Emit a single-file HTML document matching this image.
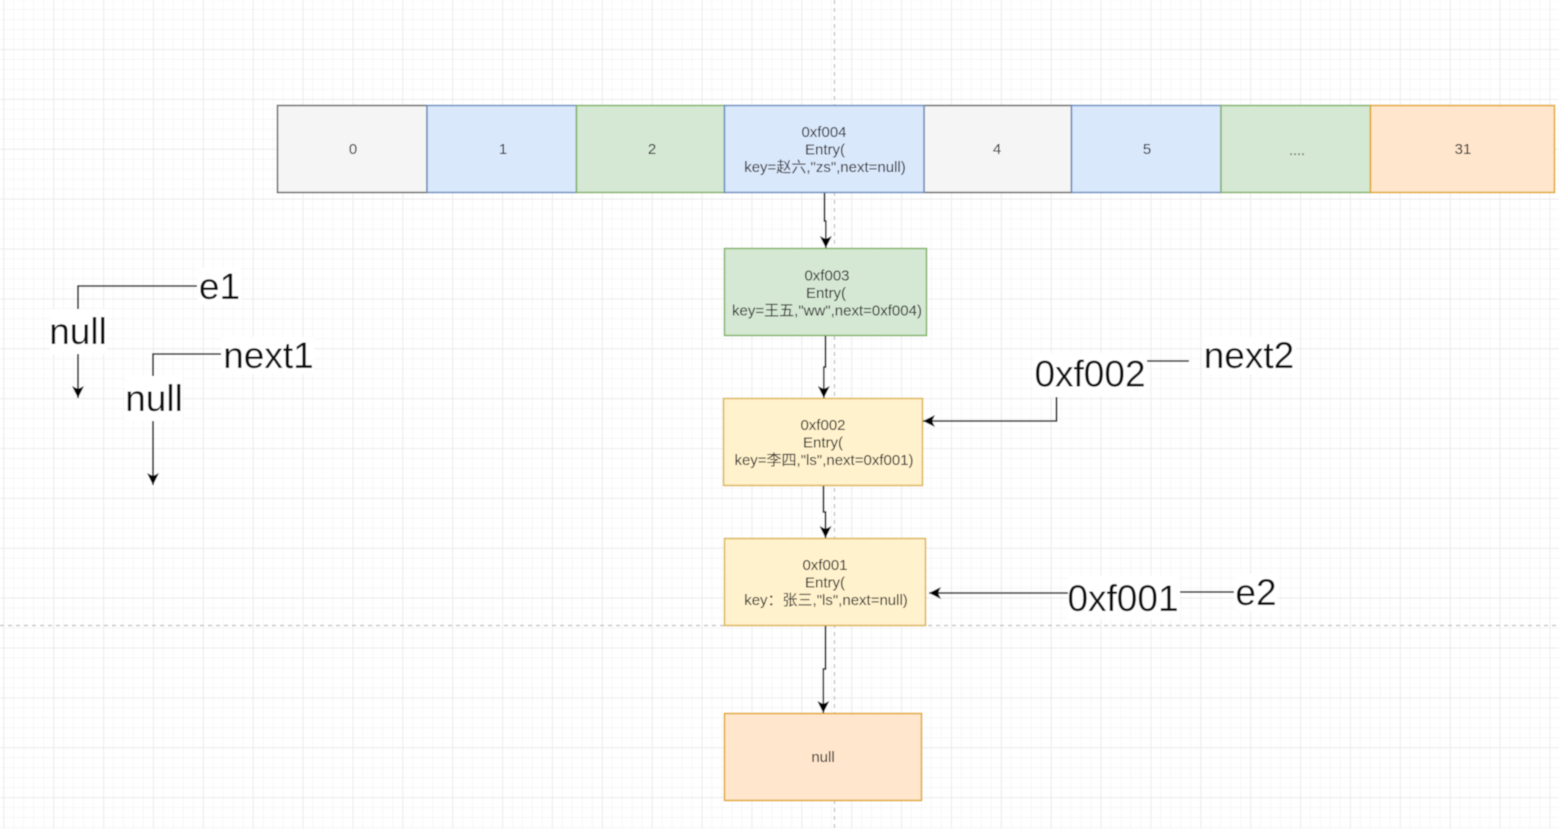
<!DOCTYPE html>
<html><head><meta charset="utf-8"><style>
html,body{margin:0;padding:0;background:#fff;width:1559px;height:829px;overflow:hidden}
svg{display:block}
text{font-family:"Liberation Sans","Noto Sans CJK SC",sans-serif;text-anchor:middle}
.s{font-size:15px;fill:#222}
.d{font-size:14.5px;fill:#444}
.b{font-size:37px;fill:#111}
.c{fill:none;stroke:#111;stroke-width:1.6}
rect.l{fill:#fff}
</style></head><body>
<svg width="1559" height="829" viewBox="0 0 1559 829" xmlns="http://www.w3.org/2000/svg">
<defs>
<pattern id="minor" x="3.4" y="-0.8" width="9.975" height="9.975" patternUnits="userSpaceOnUse">
<path d="M9.975 0H0V9.975" fill="none" stroke="#f1f1f1" stroke-width="1.2"/>
</pattern>
<pattern id="major" x="3.4" y="-0.8" width="49.875" height="49.875" patternUnits="userSpaceOnUse">
<path d="M49.875 0H0V49.875" fill="none" stroke="#e8e8e8" stroke-width="1.5"/>
</pattern>
<marker id="a" markerUnits="userSpaceOnUse" markerWidth="14" markerHeight="13" refX="12" refY="6.5" orient="auto">
<path d="M0 0.5L12 6.5L0 12.5L3 6.5Z" fill="#000"/>
</marker>
<filter id="soft" x="0" y="0" width="100%" height="100%"><feGaussianBlur stdDeviation="0.4"/></filter>
</defs>
<g filter="url(#soft)">
<rect width="1559" height="829" fill="#fff"/>
<rect width="1559" height="829" fill="url(#minor)"/>
<rect width="1559" height="829" fill="url(#major)"/>
<path d="M834.5 0V829" stroke="#bdbdbd" stroke-width="1.2" stroke-dasharray="4 4" fill="none"/>
<path d="M0 625.5H1559" stroke="#bdbdbd" stroke-width="1.2" stroke-dasharray="4 4" fill="none"/>

<!-- top array -->
<rect x="277.5" y="105.5" width="149.5" height="87" fill="#f5f5f5" stroke="#666" stroke-width="1.5"/>
<rect x="427" y="105.5" width="149.5" height="87" fill="#dae8fc" stroke="#6c8ebf" stroke-width="1.5"/>
<rect x="576.5" y="105.5" width="148" height="87" fill="#d5e8d4" stroke="#82b366" stroke-width="1.5"/>
<rect x="924" y="105.5" width="147.5" height="87" fill="#f5f5f5" stroke="#666" stroke-width="1.5"/>
<rect x="724.5" y="105.5" width="199.5" height="87" fill="#dae8fc" stroke="#6c8ebf" stroke-width="1.5"/>
<rect x="1071.5" y="105.5" width="149.5" height="87" fill="#dae8fc" stroke="#6c8ebf" stroke-width="1.5"/>
<rect x="1221" y="105.5" width="149.5" height="87" fill="#d5e8d4" stroke="#82b366" stroke-width="1.5"/>
<rect x="1370.5" y="105.5" width="184" height="87" fill="#ffe6cc" stroke="#e0a81e" stroke-width="1.5"/>

<text class="s" x="353" y="154">0</text>
<text class="s" x="503" y="154">1</text>
<text class="s" x="652" y="154">2</text>
<text class="s" x="824" y="137">0xf004</text>
<text class="s" x="825" y="154.500">Entry(</text>
<text class="s" x="825" y="172">key=赵六,"zs",next=null)</text>
<text class="s" x="997" y="154">4</text>
<text class="s" x="1147" y="154">5</text>
<text class="d" x="1297" y="155">....</text>
<text class="s" x="1463" y="154">31</text>

<!-- nodes -->
<rect x="724.500" y="248.5" width="202" height="87" fill="#d5e8d4" stroke="#82b366" stroke-width="1.5"/>
<text class="s" x="827" y="280.500">0xf003</text>
<text class="s" x="826" y="298">Entry(</text>
<text class="s" x="827" y="315.500">key=王五,"ww",next=0xf004)</text>

<rect x="723.5" y="398.5" width="199" height="87" fill="#fff2cc" stroke="#dcb552" stroke-width="1.5"/>
<text class="s" x="823" y="430">0xf002</text>
<text class="s" x="823" y="447.500">Entry(</text>
<text class="s" x="824" y="465">key=李四,"ls",next=0xf001)</text>

<rect x="724.5" y="538.5" width="201" height="87" fill="#fff2cc" stroke="#dcb552" stroke-width="1.5"/>
<text class="s" x="825" y="570">0xf001</text>
<text class="s" x="825" y="587.500">Entry(</text>
<text class="s" x="826" y="605">key：张三,"ls",next=null)</text>

<rect x="724.5" y="713.5" width="197" height="87" fill="#ffe6cc" stroke="#e0a81e" stroke-width="1.5"/>
<text class="s" x="823" y="762">null</text>

<!-- vertical connectors -->
<path class="c" marker-end="url(#a)" d="M824.5 193V221H825.8V248"/>
<path class="c" marker-end="url(#a)" d="M825.5 336V367H823.8V398"/>
<path class="c" marker-end="url(#a)" d="M823.5 486V512H825.5V538"/>
<path class="c" marker-end="url(#a)" d="M825.5 626V669H823.300V713"/>

<!-- right side -->
<rect class="l" x="1034" y="353" width="113" height="43"/>
<rect class="l" x="1068" y="576" width="112" height="43"/>
<rect class="l" x="1203" y="337" width="93" height="37"/>
<rect class="l" x="1235" y="574" width="43" height="37"/>
<path class="c" marker-end="url(#a)" d="M1056.5 397V421H923"/>
<path class="c" d="M1147 361H1189"/>
<path class="c" marker-end="url(#a)" d="M1068 593H929"/>
<path class="c" d="M1180 592H1234"/>
<text class="b" x="1090" y="386.500">0xf002</text>
<text class="b" x="1249" y="368">next2</text>
<text class="b" x="1123" y="611">0xf001</text>
<text class="b" x="1256" y="605">e2</text>

<!-- left side -->
<rect class="l" x="50" y="309" width="57" height="45"/>
<rect class="l" x="125" y="376" width="57" height="45"/>
<rect class="l" x="198" y="268" width="43" height="37"/>
<rect class="l" x="222" y="337" width="92" height="37"/>
<path class="c" d="M78 309V286H197"/>
<path class="c" marker-end="url(#a)" d="M78 354V398"/>
<path class="c" d="M153 376V354H221"/>
<path class="c" marker-end="url(#a)" d="M153 421V485"/>
<text class="b" x="78" y="344">null</text>
<text class="b" x="154" y="411">null</text>
<text class="b" x="219.500" y="299">e1</text>
<text class="b" x="268.500" y="368">next1</text>
</g>
</svg>
</body></html>
